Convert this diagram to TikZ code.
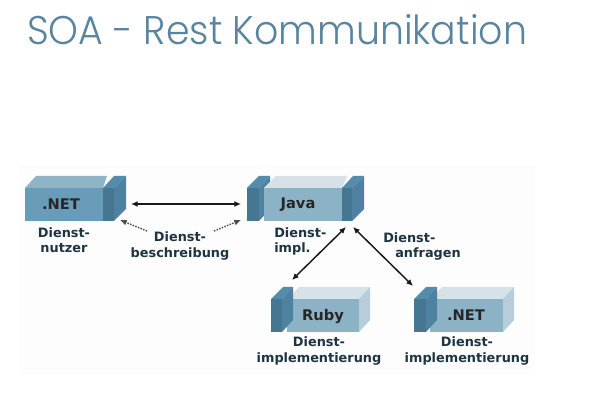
\documentclass[tikz,border=0pt]{standalone}
\usepackage{fontspec}
\usetikzlibrary{arrows.meta}
\setmainfont{DejaVu Sans}
\newfontfamily\titlefont[UprightFont=*-Light]{Poppins}
\definecolor{titleblue}{RGB}{88,132,158}
\definecolor{panelgrey}{RGB}{253,253,253}
\definecolor{earfront}{RGB}{70,118,146}
\definecolor{eartop}{RGB}{84,140,172}
\definecolor{earside}{RGB}{78,130,160}
\definecolor{bodyfront}{RGB}{140,178,198}
\definecolor{bodytop}{RGB}{214,225,232}
\definecolor{bodyside}{RGB}{182,206,218}
\definecolor{netfront}{RGB}{104,156,184}
\definecolor{nettop}{RGB}{142,180,198}
\definecolor{labeltext}{RGB}{30,52,66}
\tikzset{
  lbl/.style={font=\bfseries\fontsize{9.65}{11.5}\selectfont,text=labeltext,align=center,inner sep=0.75pt},
  boxname/.style={font=\bfseries\fontsize{11}{13}\selectfont,text=black!85,inner sep=0.75pt},
  solidarrow/.style={line width=1.1pt,color=black!90,{Latex[length=5pt,width=4.5pt]}-{Latex[length=5pt,width=4.5pt]}},
  dotarrow/.style={line width=1.1pt,color=black!70,densely dotted,-{Latex[length=5pt,width=4.5pt]}}
}
\begin{document}
\begin{tikzpicture}[x=0.75pt,y=0.75pt,yscale=-1,xscale=1]
\useasboundingbox (0,0) rectangle (600,402);
\fill [panelgrey] (18,165) rectangle (535,375);

% Title
\node (title) [anchor=west,inner sep=0pt,text=titleblue,font=\titlefont\fontsize{30}{36}\selectfont] at (27,30) {\scalebox{0.947}[1]{SOA - Rest Kommunikation}};

% NET block on the left
\fill [nettop] (25,188) -- (36,176) -- (107,176) -- (103,188) -- cycle;
\fill [netfront] (25,188) rectangle (103,221);
\fill [earfront] (103,188) rectangle (114,221);
\fill [eartop] (103,188) -- (114,176) -- (126,176) -- (114,188) -- cycle;
\fill [earside] (114,188) -- (126,176) -- (126,209) -- (114,221) -- cycle;

% Java block
\fill [earfront] (247,188) rectangle (259,221);
\fill [eartop] (247,188) -- (259,176) -- (270,176) -- (259,188) -- cycle;
\fill [earside] (259,188) -- (270,176) -- (270,209) -- (259,221) -- cycle;
\fill [bodytop] (264,188) -- (276,176) -- (347,176) -- (342,188) -- cycle;
\fill [bodyfront] (264,188) rectangle (342,221);
\fill [earfront] (342,188) rectangle (352,221);
\fill [eartop] (342,188) -- (352,188) -- (364,176) -- (353,176) -- cycle;
\fill [earside] (352,188) -- (364,176) -- (364,209) -- (352,221) -- cycle;

% Ruby block
\fill [bodytop] (287,299) -- (299,287) -- (370,287) -- (359,299) -- cycle;
\fill [bodyside] (359,299) -- (370,287) -- (370,320) -- (359,332) -- cycle;
\fill [bodyfront] (287,299) rectangle (359,332);
\fill [earfront] (271,299) rectangle (282,332);
\fill [eartop] (271,299) -- (283,287) -- (293,287) -- (282,299) -- cycle;
\fill [earside] (282,299) -- (293,287) -- (293,320) -- (282,332) -- cycle;

% NET block on the right
\fill [bodytop] (430,299) -- (442,287) -- (514,287) -- (503,299) -- cycle;
\fill [bodyside] (503,299) -- (514,287) -- (514,320) -- (503,332) -- cycle;
\fill [bodyfront] (430,299) rectangle (503,332);
\fill [earfront] (414,299) rectangle (426,332);
\fill [eartop] (414,299) -- (426,287) -- (437,287) -- (426,299) -- cycle;
\fill [earside] (426,299) -- (437,287) -- (437,320) -- (426,332) -- cycle;

% Block names
\node (netleft) [boxname] at (61,204) {.NET};
\node (java) [boxname] at (298,205) {Java};
\node (ruby) [boxname] at (323,317) {Ruby};
\node (netright) [boxname] at (466,315) {.NET};

% Labels
\node (nutzer) [lbl] at (64,240) {Dienst-\\nutzer};
\node (beschr) [lbl] at (180,246) {Dienst-\\beschreibung};
\node (impl) [lbl,align=left,anchor=north west] at (273,226) {Dienst-\\impl.};
\node (anfragen) [lbl,align=left,anchor=north west] at (382,231) {Dienst-\\\hspace*{9pt}anfragen};
\node (implruby) [lbl] at (319,351) {Dienst-\\implementierung};
\node (implnet) [lbl] at (467,351) {Dienst-\\implementierung};

% Connector ends
\coordinate (netright1) at (131,204);
\coordinate (javaleft1) at (241,204);
\coordinate (netnote) at (120,220);
\coordinate (javanote) at (241,220);
\coordinate (notel) at (147,231);
\coordinate (noter) at (214,231);
\coordinate (javabl) at (346,227);
\coordinate (javabr) at (353,227);
\coordinate (rubytop) at (292,280);
\coordinate (nettop1) at (413,286);

% Connectors
\draw [solidarrow] (netright1) -- (javaleft1);
\draw [dotarrow] (notel) -- (netnote);
\draw [dotarrow] (noter) -- (javanote);
\draw [solidarrow] (javabl) -- (rubytop);
\draw [solidarrow] (javabr) -- (nettop1);
\end{tikzpicture}
\end{document}
